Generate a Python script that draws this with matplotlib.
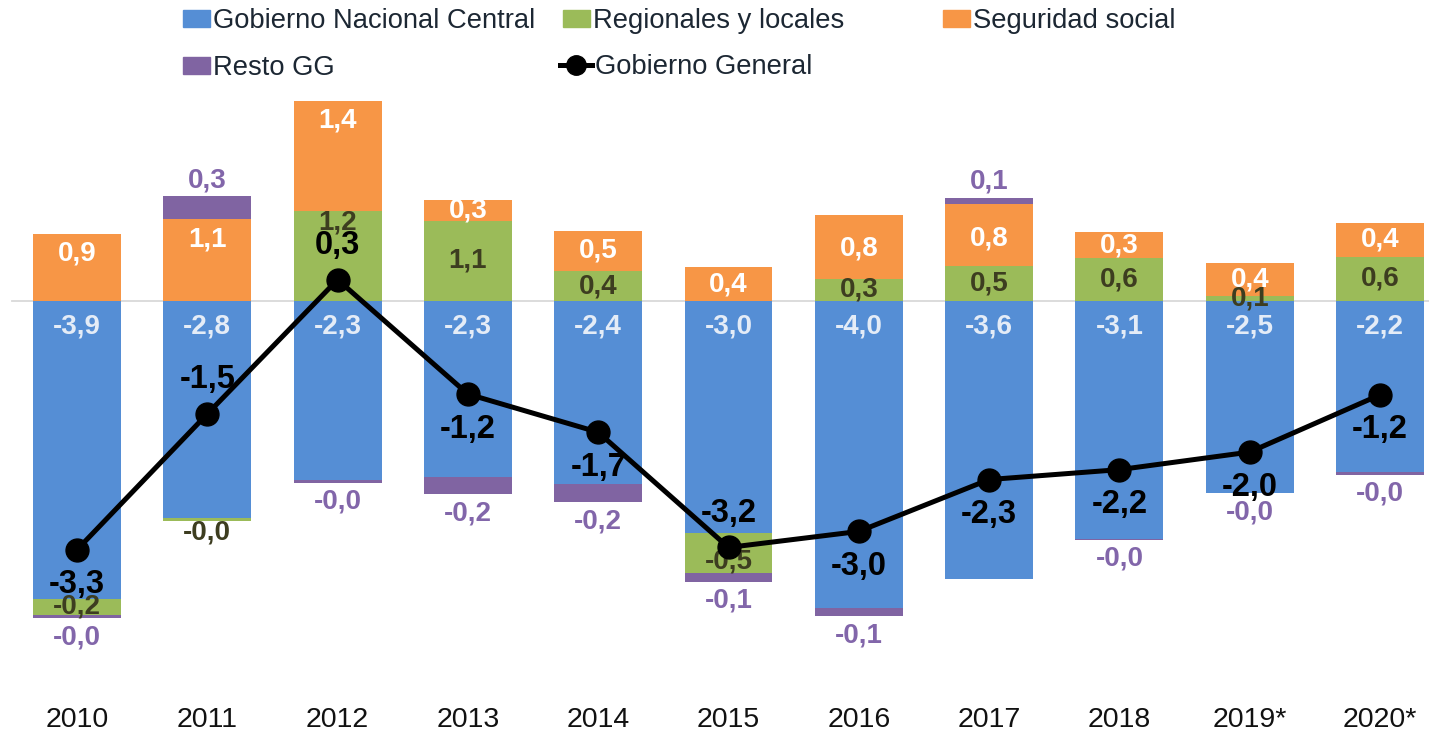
import matplotlib
matplotlib.use('Agg')
import matplotlib.pyplot as plt
from matplotlib.lines import Line2D
from matplotlib.patches import Patch
import numpy as np

plt.rcParams['font.family'] = ['Liberation Sans', 'DejaVu Sans']

# data (% del PIB)
years = ['2010', '2011', '2012', '2013', '2014', '2015', '2016', '2017', '2018', '2019*', '2020*']
gnc = [-3.90, -2.84, -2.34, -2.31, -2.40, -3.04, -4.03, -3.64, -3.12, -2.51, -2.24]
regionales = [-0.22, -0.04, 1.18, 1.05, 0.39, -0.52, 0.29, 0.46, 0.56, 0.06, 0.58]
seguridad = [0.88, 1.07, 1.44, 0.28, 0.53, 0.44, 0.84, 0.81, 0.34, 0.44, 0.44]
resto = [-0.04, 0.30, -0.04, -0.22, -0.24, -0.12, -0.10, 0.08, -0.01, -0.01, -0.04]
gg = [-3.26, -1.48, 0.28, -1.22, -1.72, -3.23, -3.02, -2.34, -2.21, -1.98, -1.23]

# styling
C_GNC = '#558ED5'
C_REG = '#9BBB59'
C_SS = '#F79646'
C_RES = '#8064A2'
TXT = '#1c2733'
gg_pos = ['below', 'above', 'above', 'below', 'below', 'above',
          'below', 'below', 'below', 'below', 'below']
reg_nudge = {2: 33, 5: -9}   # px
ss_nudge = {6: -14, 7: -15}  # px


def fmt(v):
    return ('%.1f' % v).replace('.', ',')


W, H = 1429, 731
fig = plt.figure(figsize=(W / 100, H / 100), dpi=100)
ax_bottom = 690
ax = fig.add_axes([0, (H - ax_bottom) / H, 1, ax_bottom / H])

zero_px = 301
scale = 76.3
ax.set_ylim(-(ax_bottom - zero_px) / scale, zero_px / scale)
ax.set_xlim(-77 / 130.3, (W - 77) / 130.3)

x = np.arange(len(years))
bw = 0.675

ax.plot([-0.5, 10.6], [0, 0], color='#D9D9D9', lw=1.3, zorder=1)

pos_base = np.zeros(len(years))
neg_base = np.zeros(len(years))
segs = []
for vals, col in [(gnc, C_GNC), (regionales, C_REG), (seguridad, C_SS), (resto, C_RES)]:
    vals = np.array(vals)
    bottoms = np.where(vals >= 0, pos_base, neg_base)
    ax.bar(x, vals, bw, bottom=bottoms, color=col, linewidth=0, zorder=2)
    segs.append((vals, bottoms.copy()))
    pos_base = pos_base + np.where(vals >= 0, vals, 0)
    neg_base = neg_base + np.where(vals < 0, vals, 0)

lab = dict(ha='center', va='center', fontsize=20, fontweight='bold',
           textcoords='offset pixels', zorder=5)

# GNC labels: just under the zero line
vals, bots = segs[0]
for i, v in enumerate(vals):
    ax.annotate(fmt(v), (i, 0), xytext=(0, -25), color='#E4ECF7', **lab)

# Regionales: centered in the segment
vals, bots = segs[1]
for i, v in enumerate(vals):
    if abs(v) < 0.05:
        edge = bots[i] + v
        ax.annotate(fmt(v), (i, edge), xytext=(0, -12 if v < 0 else 12),
                    color='#3d3d20', **lab)
    else:
        ax.annotate(fmt(v), (i, bots[i] + v / 2), xytext=(0, reg_nudge.get(i, 0)),
                    color='#3d3d20', **lab)

# Seguridad social: near the top of the segment
vals, bots = segs[2]
for i, v in enumerate(vals):
    top = bots[i] + v
    ax.annotate(fmt(v), (i, top - min(v / 2, 0.26)), xytext=(0, ss_nudge.get(i, 0)),
                color='white', **lab)

# Resto GG: outside end
vals, bots = segs[3]
for i, v in enumerate(vals):
    edge = bots[i] + v
    ax.annotate(fmt(v), (i, edge), xytext=(0, 16 if v > 0 else -19),
                color='#8266AA', **lab)

# Gobierno General line
ax.plot(x, gg, color='black', lw=3.6, marker='o', markersize=16.5, zorder=6)
for i, v in enumerate(gg):
    dy = 34 if gg_pos[i] == 'above' else -35
    ax.annotate(fmt(v), (i, v), xytext=(0, dy), ha='center', va='center',
                fontsize=23.5, fontweight='bold', color='black',
                textcoords='offset pixels', zorder=7)

ax.set_xticks(x)
ax.set_xticklabels(years, fontsize=20.5, color='#111111')
ax.tick_params(axis='x', length=0, pad=12)
ax.set_yticks([])
for s in ax.spines.values():
    s.set_visible(False)
ax.patch.set_alpha(0)

# legend, one entry at a time to keep the even column spacing
entries = [
    (Patch(color=C_GNC), 'Gobierno Nacional Central', 183, 21),
    (Patch(color=C_REG), 'Regionales y locales', 563, 21),
    (Patch(color=C_SS), 'Seguridad social', 943, 21),
    (Patch(color=C_RES), 'Resto GG', 183, 68),
    (Line2D([], [], color='black', lw=3.6, marker='o', markersize=14),
     'Gobierno General', 560, 67),
]
for h, t, px, py in entries:
    is_line = isinstance(h, Line2D)
    fig.legend([h], [t], loc='center left', bbox_to_anchor=(px / W, 1 - py / H),
               frameon=False, fontsize=19.7, borderpad=0, borderaxespad=0,
               handlelength=1.17 if is_line else 0.98,
               handleheight=0.55, handletextpad=0.1, labelcolor=TXT)

fig.savefig('out.png', dpi=100)
